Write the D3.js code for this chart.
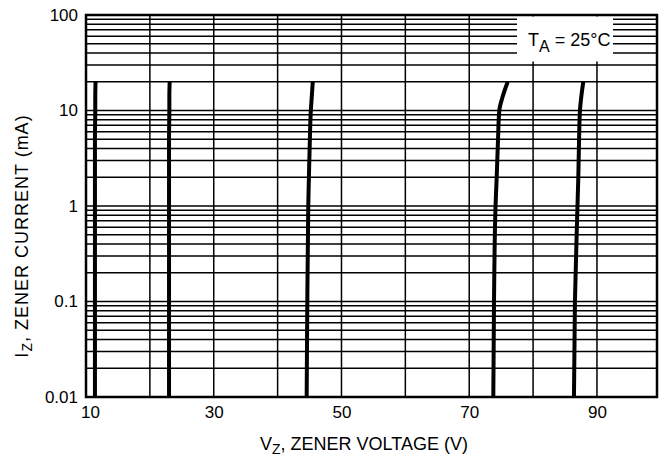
<!DOCTYPE html>
<html>
<head>
<meta charset="utf-8">
<script src="https://cdn.jsdelivr.net/npm/d3@7"></script>
<style>
  body { margin: 0; background: #fff; }
  svg { font-family: "Liberation Sans", Arial, sans-serif; }
</style>
</head>
<body>
<svg width="664" height="458"></svg>
<script>
// zener current points (mA) where the curves were read
const currents = [0.01, 0.1, 1, 2, 5, 10, 14, 20];
// zener voltage (V) for each device at those currents
const zener11 = [11.4, 11.4, 11.4, 11.4, 11.4, 11.45, 11.45, 11.5];
const zener23 = [23.0, 23.0, 23.0, 23.0, 23.0, 23.05, 23.05, 23.1];
const zener45 = [44.55, 44.65, 44.8, 44.9, 45.05, 45.2, 45.35, 45.5];
const zener75 = [73.77, 73.88, 74.12, 74.3, 74.51, 74.71, 75.24, 76.03];
const zener87 = [86.4, 86.55, 86.95, 87.08, 87.2, 87.34, 87.55, 87.86];
const xTicks = [10, 30, 50, 70, 90];
const yTicks = [0.01, 0.1, 1, 10, 100];
const yTickLabels = ["0.01", "0.1", "1", "10", "100"];

const series = [zener11, zener23, zener45, zener75, zener87];

const svg = d3.select("svg");
const pLeft = 86, pRight = 657, pTop = 15, pBottom = 397;

const x = d3.scaleLinear().domain([10, 99.4]).range([pLeft, pRight]);
const y = d3.scaleLog().domain([0.01, 100]).range([pBottom, pTop]);

// grid
const grid = svg.append("g");
const minor = [];
for (let e = -2; e < 2; e++) {
    for (let k = 1; k <= 9; k++) minor.push(k * Math.pow(10, e));
}
grid.selectAll(".h")
    .data(minor)
    .enter().append("line")
    .attr("x1", pLeft).attr("x2", pRight)
    .attr("y1", d => y(d)).attr("y2", d => y(d))
    .attr("stroke", "#000")
    .attr("stroke-width", 1.5);

grid.selectAll(".v")
    .data(d3.range(20, 100, 10))
    .enter().append("line")
    .attr("x1", d => x(d)).attr("x2", d => x(d))
    .attr("y1", pTop).attr("y2", pBottom)
    .attr("stroke", "#000")
    .attr("stroke-width", 1.5);

// legend box covers the grid
svg.append("rect")
    .attr("x", 517).attr("y", pTop + 1.5)
    .attr("width", 96).attr("height", 45)
    .attr("fill", "#fff");

const lt = svg.append("text")
    .attr("x", 528).attr("y", 46)
    .attr("font-size", 18);
lt.append("tspan").text("T");
lt.append("tspan").attr("dy", 6).attr("font-size", 16).text("A");
lt.append("tspan").attr("dy", -6).text(" = 25°C");

// curves
const line = d3.line()
    .x(d => x(d[0]))
    .y(d => y(d[1]))
    .curve(d3.curveMonotoneY);

svg.selectAll(".curve")
    .data(series)
    .enter().append("path")
    .attr("d", s => line(s.map((v, i) => [v, currents[i]])))
    .attr("fill", "none")
    .attr("stroke", "#000")
    .attr("stroke-width", 4);

// frame
svg.append("rect")
    .attr("x", pLeft).attr("y", pTop)
    .attr("width", pRight - pLeft).attr("height", pBottom - pTop)
    .attr("fill", "none")
    .attr("stroke", "#000")
    .attr("stroke-width", 2.5);

// axes
const xAxis = svg.append("g")
    .attr("transform", `translate(0,${pBottom})`)
    .call(d3.axisBottom(x).tickValues(xTicks).tickSize(0).tickPadding(9).tickFormat(d3.format("d")));
xAxis.select(".domain").remove();
xAxis.selectAll("text").attr("font-size", 17).attr("fill", "#000")
    .attr("dx", d => d === 10 ? 4 : 0);

const yAxis = svg.append("g")
    .attr("transform", `translate(${pLeft},0)`)
    .call(d3.axisLeft(y).tickValues(yTicks).tickSize(0).tickPadding(8)
        .tickFormat((d, i) => yTickLabels[i]));
yAxis.select(".domain").remove();
yAxis.selectAll("text").attr("font-size", 17).attr("fill", "#000");

// axis titles
const xt = svg.append("text")
    .attr("x", 260).attr("y", 450)
    .attr("font-size", 18);
xt.append("tspan").text("V");
xt.append("tspan").attr("dy", 4).attr("font-size", 14).text("Z");
xt.append("tspan").attr("dy", -4).text(", ZENER VOLTAGE (V)");

const yt = svg.append("text")
    .attr("transform", "translate(28,236) rotate(-90)")
    .attr("text-anchor", "middle")
    .attr("font-size", 18)
    .attr("letter-spacing", 1);
yt.append("tspan").text("I");
yt.append("tspan").attr("dy", 4).attr("font-size", 14).text("Z");
yt.append("tspan").attr("dy", -4).text(", ZENER CURRENT (mA)");
</script>
</body>
</html>
